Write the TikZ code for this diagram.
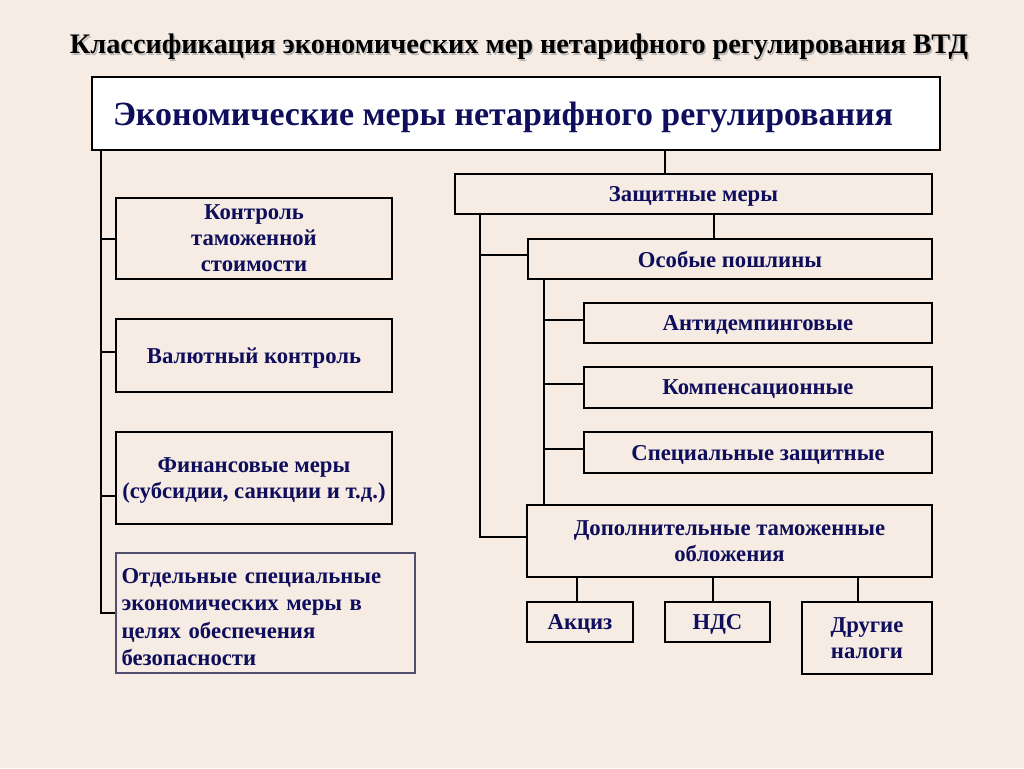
\documentclass[tikz,border=0pt]{standalone}
\usepackage{fontspec}
\setmainfont{Liberation Serif}
\usepackage{graphicx}
\definecolor{bg}{RGB}{246,236,228}
\definecolor{navy}{RGB}{14,14,92}
\definecolor{slate}{RGB}{80,80,110}
\begin{document}
\begin{tikzpicture}[x=1pt,y=-1pt,
  box/.style={draw=black, line width=1.6pt, inner sep=0pt, align=center, text=navy,
    text depth=0pt, font=\fontsize{22.7}{26}\selectfont\bfseries},
  conn/.style={draw=black, line width=1.4pt}]
\fill[bg] (0,0) rectangle (1024,768);
\useasboundingbox (0,0) rectangle (1024,768);

% title
\node[anchor=base, inner sep=0pt, text=black!28] at (520.5,55.5)
  {\resizebox{898pt}{!}{\fontsize{26}{26}\selectfont\bfseries Классификация экономических мер нетарифного регулирования ВТД}};
\node[anchor=base, inner sep=0pt] (title) at (519,54)
  {\resizebox{898pt}{!}{\fontsize{26}{26}\selectfont\bfseries Классификация экономических мер нетарифного регулирования ВТД}};

% header
\node[draw=black, line width=1.6pt, fill=white, minimum width=848pt, minimum height=73pt,
  inner xsep=21pt, inner ysep=0pt, text depth=0pt, text=navy] (hdr) at (516,113.5)
  {\makebox[806pt][l]{\resizebox{780pt}{!}{\fontsize{35}{35}\selectfont\bfseries Экономические меры нетарифного регулирования}}};

% left column
\node[box, minimum width=276pt, minimum height=81pt] (k1) at (254,238.5) {Контроль\\таможенной\\стоимости};
\node[box, minimum width=276pt, minimum height=73pt] (k2) at (254,355.5) {Валютный контроль};
\node[box, minimum width=276pt, minimum height=92pt] (k3) at (254,478) {Финансовые меры\\(субсидии, санкции и т.д.)};
\node[box, draw=slate, line width=2.4pt, minimum width=299pt, minimum height=120pt, text depth=,
  text width=288pt, inner xsep=5.5pt, align=left, font=\fontsize{22.7}{27.5}\selectfont\bfseries] (k4) at (265.5,613)
  {\rule{0pt}{23pt}Отдельные специальные\\экономических меры в\\целях обеспечения\\безопасности};

% right column
\node[box, minimum width=477pt, minimum height=40pt] (z) at (693.5,194) {Защитные меры};
\node[box, minimum width=404pt, minimum height=40pt] (o) at (730,259) {Особые пошлины};
\node[box, minimum width=348pt, minimum height=40pt] (a) at (758,323) {Антидемпинговые};
\node[box, minimum width=348pt, minimum height=41pt] (c) at (758,387.5) {Компенсационные};
\node[box, minimum width=348pt, minimum height=41pt] (s) at (758,452.5) {Специальные защитные};
\node[box, minimum width=405pt, minimum height=72pt] (d) at (729.5,541) {Дополнительные таможенные\\обложения};
\node[box, minimum width=106pt, minimum height=40pt] (ak) at (580,622) {Акциз};
\node[box, minimum width=105pt, minimum height=40pt] (nds) at (717.5,622) {НДС};
\node[box, minimum width=130pt, minimum height=72pt] (dr) at (867,638) {Другие\\налоги};

% left trunk
\coordinate (lt) at (hdr.south -| 101,0);
\draw[conn] (lt) |- (k4.west);
\draw[conn] (lt |- 0,239) -- (k1.west |- 0,239);
\draw[conn] (lt |- 0,352) -- (k2.west |- 0,352);
\draw[conn] (lt |- 0,496) -- (k3.west |- 0,496);

% header to protective
\draw[conn] (hdr.south -| 665,0) -- (z.north -| 665,0);
\draw[conn] (z.south -| 714,0) -- (o.north -| 714,0);

% trunk x=480
\coordinate (rt) at (z.south -| 480,0);
\draw[conn] (rt) |- (d.west |- 0,537);
\draw[conn] (rt |- 0,255) -- (o.west |- 0,255);

% trunk x=544
\coordinate (ot) at (o.south -| 544,0);
\draw[conn] (ot) -- (d.north -| 544,0);
\draw[conn] (ot |- 0,320) -- (a.west |- 0,320);
\draw[conn] (ot |- 0,384) -- (c.west |- 0,384);
\draw[conn] (ot |- 0,449) -- (s.west |- 0,449);

% taxes
\draw[conn] (d.south -| 577,0) -- (ak.north -| 577,0);
\draw[conn] (d.south -| 713,0) -- (nds.north -| 713,0);
\draw[conn] (d.south -| 858,0) -- (dr.north -| 858,0);
\end{tikzpicture}
\end{document}
